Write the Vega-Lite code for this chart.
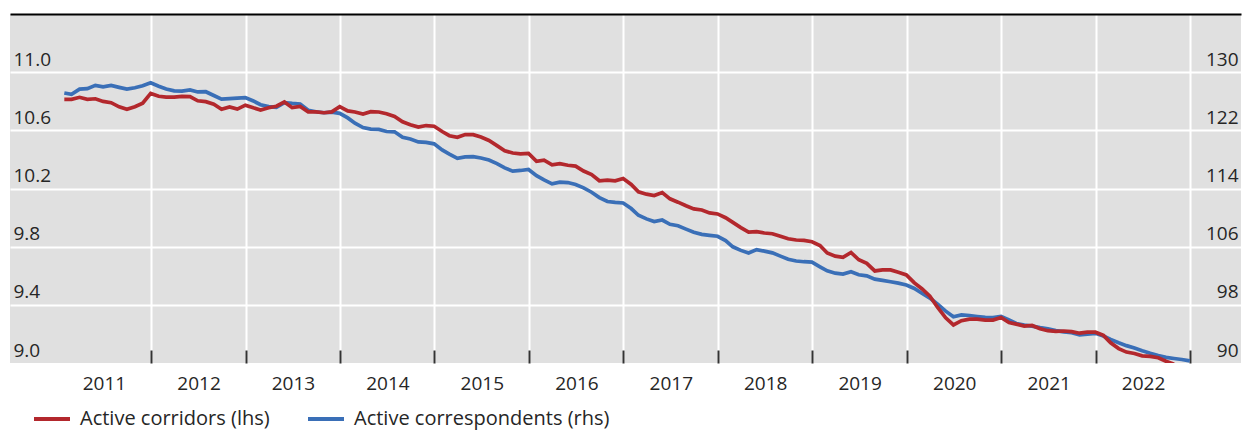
{
  "$schema": "https://vega.github.io/schema/vega-lite/v6.json",
  "width": 1231,
  "height": 349,
  "autosize": {"type": "none"},
  "padding": {"left": 10, "top": 14, "right": 1, "bottom": 68},
  "background": "white",
  "config": {
    "view": {"fill": "#E0E0E0", "stroke": null},
    "font": "Open Sans"
  },
  "data": {
    "values": [
      {"d": "2011-01-31", "c": 10.813, "r": 127.14},
      {"d": "2011-02-28", "c": 10.813, "r": 126.96},
      {"d": "2011-03-31", "c": 10.827, "r": 127.66},
      {"d": "2011-04-30", "c": 10.813, "r": 127.73},
      {"d": "2011-05-31", "c": 10.817, "r": 128.19},
      {"d": "2011-06-30", "c": 10.799, "r": 127.99},
      {"d": "2011-07-31", "c": 10.790, "r": 128.17},
      {"d": "2011-08-31", "c": 10.762, "r": 127.91},
      {"d": "2011-09-30", "c": 10.745, "r": 127.68},
      {"d": "2011-10-31", "c": 10.762, "r": 127.86},
      {"d": "2011-11-30", "c": 10.786, "r": 128.13},
      {"d": "2011-12-31", "c": 10.854, "r": 128.53},
      {"d": "2012-01-31", "c": 10.834, "r": 128.06},
      {"d": "2012-02-29", "c": 10.828, "r": 127.68},
      {"d": "2012-03-31", "c": 10.828, "r": 127.42},
      {"d": "2012-04-30", "c": 10.834, "r": 127.40},
      {"d": "2012-05-31", "c": 10.832, "r": 127.55},
      {"d": "2012-06-30", "c": 10.803, "r": 127.28},
      {"d": "2012-07-31", "c": 10.797, "r": 127.31},
      {"d": "2012-08-31", "c": 10.780, "r": 126.79},
      {"d": "2012-09-30", "c": 10.745, "r": 126.29},
      {"d": "2012-10-31", "c": 10.761, "r": 126.36},
      {"d": "2012-11-30", "c": 10.746, "r": 126.44},
      {"d": "2012-12-31", "c": 10.773, "r": 126.51},
      {"d": "2013-01-31", "c": 10.755, "r": 126.04},
      {"d": "2013-02-28", "c": 10.740, "r": 125.52},
      {"d": "2013-03-31", "c": 10.755, "r": 125.26},
      {"d": "2013-04-30", "c": 10.766, "r": 125.15},
      {"d": "2013-05-31", "c": 10.795, "r": 125.82},
      {"d": "2013-06-30", "c": 10.756, "r": 125.70},
      {"d": "2013-07-31", "c": 10.764, "r": 125.63},
      {"d": "2013-08-31", "c": 10.727, "r": 124.77},
      {"d": "2013-09-30", "c": 10.727, "r": 124.56},
      {"d": "2013-10-31", "c": 10.721, "r": 124.42},
      {"d": "2013-11-30", "c": 10.727, "r": 124.49},
      {"d": "2013-12-31", "c": 10.763, "r": 124.33},
      {"d": "2014-01-31", "c": 10.734, "r": 123.71},
      {"d": "2014-02-28", "c": 10.726, "r": 122.98},
      {"d": "2014-03-31", "c": 10.712, "r": 122.38},
      {"d": "2014-04-30", "c": 10.728, "r": 122.16},
      {"d": "2014-05-31", "c": 10.726, "r": 122.13},
      {"d": "2014-06-30", "c": 10.714, "r": 121.84},
      {"d": "2014-07-31", "c": 10.696, "r": 121.80},
      {"d": "2014-08-31", "c": 10.659, "r": 121.04},
      {"d": "2014-09-30", "c": 10.639, "r": 120.80},
      {"d": "2014-10-31", "c": 10.622, "r": 120.41},
      {"d": "2014-11-30", "c": 10.633, "r": 120.34},
      {"d": "2014-12-31", "c": 10.628, "r": 120.14},
      {"d": "2015-01-31", "c": 10.592, "r": 119.31},
      {"d": "2015-02-28", "c": 10.563, "r": 118.74},
      {"d": "2015-03-31", "c": 10.552, "r": 118.15},
      {"d": "2015-04-30", "c": 10.571, "r": 118.34},
      {"d": "2015-05-31", "c": 10.570, "r": 118.37},
      {"d": "2015-06-30", "c": 10.554, "r": 118.19},
      {"d": "2015-07-31", "c": 10.530, "r": 117.91},
      {"d": "2015-08-31", "c": 10.495, "r": 117.42},
      {"d": "2015-09-30", "c": 10.460, "r": 116.84},
      {"d": "2015-10-31", "c": 10.444, "r": 116.39},
      {"d": "2015-11-30", "c": 10.438, "r": 116.48},
      {"d": "2015-12-31", "c": 10.441, "r": 116.62},
      {"d": "2016-01-31", "c": 10.387, "r": 115.76},
      {"d": "2016-02-29", "c": 10.395, "r": 115.19},
      {"d": "2016-03-31", "c": 10.363, "r": 114.64},
      {"d": "2016-04-30", "c": 10.371, "r": 114.88},
      {"d": "2016-05-31", "c": 10.360, "r": 114.82},
      {"d": "2016-06-30", "c": 10.354, "r": 114.55},
      {"d": "2016-07-31", "c": 10.320, "r": 114.08},
      {"d": "2016-08-31", "c": 10.296, "r": 113.49},
      {"d": "2016-09-30", "c": 10.253, "r": 112.75},
      {"d": "2016-10-31", "c": 10.257, "r": 112.21},
      {"d": "2016-11-30", "c": 10.253, "r": 112.09},
      {"d": "2016-12-31", "c": 10.269, "r": 112.01},
      {"d": "2017-01-31", "c": 10.228, "r": 111.24},
      {"d": "2017-02-28", "c": 10.177, "r": 110.32},
      {"d": "2017-03-31", "c": 10.161, "r": 109.82},
      {"d": "2017-04-30", "c": 10.152, "r": 109.45},
      {"d": "2017-05-31", "c": 10.172, "r": 109.66},
      {"d": "2017-06-30", "c": 10.129, "r": 109.08},
      {"d": "2017-07-31", "c": 10.106, "r": 108.87},
      {"d": "2017-08-31", "c": 10.081, "r": 108.41},
      {"d": "2017-09-30", "c": 10.060, "r": 107.98},
      {"d": "2017-10-31", "c": 10.052, "r": 107.69},
      {"d": "2017-11-30", "c": 10.032, "r": 107.56},
      {"d": "2017-12-31", "c": 10.025, "r": 107.43},
      {"d": "2018-01-31", "c": 9.999, "r": 106.84},
      {"d": "2018-02-28", "c": 9.967, "r": 105.98},
      {"d": "2018-03-31", "c": 9.931, "r": 105.49},
      {"d": "2018-04-30", "c": 9.900, "r": 105.12},
      {"d": "2018-05-31", "c": 9.903, "r": 105.59},
      {"d": "2018-06-30", "c": 9.894, "r": 105.39},
      {"d": "2018-07-31", "c": 9.889, "r": 105.15},
      {"d": "2018-08-31", "c": 9.871, "r": 104.70},
      {"d": "2018-09-30", "c": 9.854, "r": 104.26},
      {"d": "2018-10-31", "c": 9.846, "r": 104.03},
      {"d": "2018-11-30", "c": 9.843, "r": 103.93},
      {"d": "2018-12-31", "c": 9.834, "r": 103.87},
      {"d": "2019-01-31", "c": 9.808, "r": 103.23},
      {"d": "2019-02-28", "c": 9.757, "r": 102.67},
      {"d": "2019-03-31", "c": 9.735, "r": 102.35},
      {"d": "2019-04-30", "c": 9.726, "r": 102.24},
      {"d": "2019-05-31", "c": 9.760, "r": 102.55},
      {"d": "2019-06-30", "c": 9.710, "r": 102.14},
      {"d": "2019-07-31", "c": 9.685, "r": 101.99},
      {"d": "2019-08-31", "c": 9.633, "r": 101.53},
      {"d": "2019-09-30", "c": 9.640, "r": 101.36},
      {"d": "2019-10-31", "c": 9.640, "r": 101.17},
      {"d": "2019-11-30", "c": 9.624, "r": 100.98},
      {"d": "2019-12-31", "c": 9.606, "r": 100.73},
      {"d": "2020-01-31", "c": 9.551, "r": 100.25},
      {"d": "2020-02-29", "c": 9.511, "r": 99.59},
      {"d": "2020-03-31", "c": 9.459, "r": 98.92},
      {"d": "2020-04-30", "c": 9.382, "r": 98.08},
      {"d": "2020-05-31", "c": 9.311, "r": 97.13},
      {"d": "2020-06-30", "c": 9.262, "r": 96.35},
      {"d": "2020-07-31", "c": 9.291, "r": 96.61},
      {"d": "2020-08-31", "c": 9.302, "r": 96.53},
      {"d": "2020-09-30", "c": 9.302, "r": 96.40},
      {"d": "2020-10-31", "c": 9.295, "r": 96.28},
      {"d": "2020-11-30", "c": 9.295, "r": 96.25},
      {"d": "2020-12-31", "c": 9.313, "r": 96.40},
      {"d": "2021-01-31", "c": 9.278, "r": 95.92},
      {"d": "2021-02-28", "c": 9.267, "r": 95.43},
      {"d": "2021-03-31", "c": 9.254, "r": 95.21},
      {"d": "2021-04-30", "c": 9.258, "r": 95.08},
      {"d": "2021-05-31", "c": 9.235, "r": 94.86},
      {"d": "2021-06-30", "c": 9.222, "r": 94.70},
      {"d": "2021-07-31", "c": 9.218, "r": 94.45},
      {"d": "2021-08-31", "c": 9.220, "r": 94.29},
      {"d": "2021-09-30", "c": 9.216, "r": 94.16},
      {"d": "2021-10-31", "c": 9.205, "r": 93.87},
      {"d": "2021-11-30", "c": 9.212, "r": 93.97},
      {"d": "2021-12-31", "c": 9.212, "r": 94.08},
      {"d": "2022-01-31", "c": 9.190, "r": 93.71},
      {"d": "2022-02-28", "c": 9.139, "r": 93.23},
      {"d": "2022-03-31", "c": 9.099, "r": 92.78},
      {"d": "2022-04-30", "c": 9.075, "r": 92.39},
      {"d": "2022-05-31", "c": 9.065, "r": 92.05},
      {"d": "2022-06-30", "c": 9.049, "r": 91.68},
      {"d": "2022-07-31", "c": 9.045, "r": 91.33},
      {"d": "2022-08-31", "c": 9.036, "r": 91.03},
      {"d": "2022-09-30", "c": 9.012, "r": 90.78},
      {"d": "2022-10-31", "c": 8.991, "r": 90.62},
      {"d": "2022-11-30", "c": null, "r": 90.48},
      {"d": "2022-12-31", "c": null, "r": 90.30}
    ]
  },
  "layer": [
    {
      "mark": {"type": "line", "strokeWidth": 3.7, "clip": true},
      "encoding": {
        "x": {
          "field": "d", "type": "temporal",
          "scale": {"type": "utc", "domain": [{"year": 2010, "month": 7, "date": 5, "utc": true}, {"year": 2023, "month": 7, "date": 17, "utc": true}]},
          "axis": {"orient": "top", "title": null, "domain": true, "domainColor": "#000000", "domainWidth": 2, "labels": false, "ticks": false, "grid": false, "zindex": 1}
        },
        "y": {
          "field": "r", "type": "quantitative",
          "scale": {"domain": [90, 138], "nice": false, "zero": false},
          "axis": {"orient": "right", "title": null, "values": [90, 98, 106, 114, 122, 130], "domain": false, "ticks": false, "tickSize": 0, "grid": false, "labelAlign": "right", "labelBaseline": "alphabetic", "labelPadding": -3, "labelOffset": -7, "labelFontSize": 19, "labelColor": "#262626", "labelFont": "Open Sans", "labelFlush": false, "labelBound": false, "labelOverlap": false}
        },
        "color": {"datum": "Active correspondents (rhs)"}
      }
    },
    {
      "mark": {"type": "line", "strokeWidth": 3.7, "clip": true},
      "encoding": {
        "x": {
          "field": "d", "type": "temporal",
          "scale": {"type": "utc", "domain": [{"year": 2010, "month": 7, "date": 5, "utc": true}, {"year": 2023, "month": 7, "date": 17, "utc": true}]},
          "axis": {
            "orient": "bottom", "title": null, "domain": false,
            "values": [
              {"year": 2012, "month": 1, "date": 1, "utc": true},
              {"year": 2013, "month": 1, "date": 1, "utc": true},
              {"year": 2014, "month": 1, "date": 1, "utc": true},
              {"year": 2015, "month": 1, "date": 1, "utc": true},
              {"year": 2016, "month": 1, "date": 1, "utc": true},
              {"year": 2017, "month": 1, "date": 1, "utc": true},
              {"year": 2018, "month": 1, "date": 1, "utc": true},
              {"year": 2019, "month": 1, "date": 1, "utc": true},
              {"year": 2020, "month": 1, "date": 1, "utc": true},
              {"year": 2021, "month": 1, "date": 1, "utc": true},
              {"year": 2022, "month": 1, "date": 1, "utc": true},
              {"year": 2023, "month": 1, "date": 1, "utc": true}
            ],
            "grid": true, "gridColor": "#FFFFFF", "gridWidth": 2,
            "ticks": true, "tickSize": -13, "tickWidth": 2, "tickColor": "#333333",
            "labelExpr": "'' + (utcyear(datum.value) - 1)",
            "labelOffset": -47, "labelPadding": 24,
            "labelFontSize": 19, "labelColor": "#262626", "labelFont": "Open Sans",
            "labelFlush": false, "labelBound": false, "labelOverlap": false
          }
        },
        "y": {
          "field": "c", "type": "quantitative",
          "scale": {"domain": [9.0, 11.4], "nice": false, "zero": false},
          "axis": {
            "orient": "left", "title": null, "values": [9.0, 9.4, 9.8, 10.2, 10.6, 11.0], "format": ".1f",
            "domain": false, "ticks": false, "tickSize": 0,
            "grid": true, "gridColor": "#FFFFFF", "gridWidth": 2,
            "gridOpacity": {"condition": {"test": "datum.value < 9.1", "value": 0}, "value": 1},
            "labelAlign": "left", "labelBaseline": "alphabetic", "labelPadding": -3, "labelOffset": -7,
            "labelFontSize": 19, "labelColor": "#262626", "labelFont": "Open Sans",
            "labelFlush": false, "labelBound": false, "labelOverlap": false
          }
        },
        "color": {
          "datum": "Active corridors (lhs)",
          "scale": {"domain": ["Active corridors (lhs)", "Active correspondents (rhs)"], "range": ["#B3282D", "#3A6FB7"]},
          "legend": {
            "orient": "none", "legendX": 22, "legendY": 385, "direction": "horizontal", "title": null,
            "symbolType": "stroke", "symbolSize": 1296, "symbolStrokeWidth": 4,
            "labelFontSize": 20, "labelFont": "Open Sans", "labelColor": "#262626", "labelLimit": 500,
            "labelOffset": 8, "columnPadding": 30, "padding": 0
          }
        }
      }
    }
  ],
  "resolve": {"scale": {"y": "independent"}, "axis": {"x": "independent", "y": "independent"}}
}
